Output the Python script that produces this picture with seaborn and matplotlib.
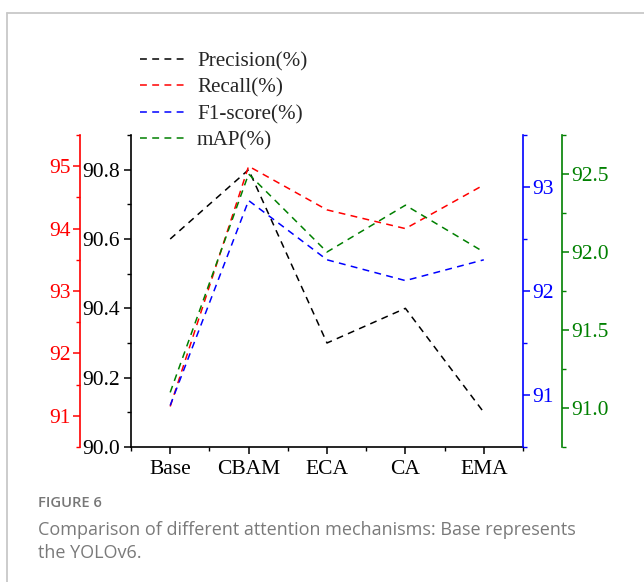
import matplotlib
matplotlib.use("Agg")
import matplotlib.pyplot as plt
from matplotlib.lines import Line2D
from matplotlib.ticker import FixedLocator, FormatStrFormatter
import seaborn as sns
import pandas as pd

categories = ["Base", "CBAM", "ECA", "CA", "EMA"]
precision = [90.6, 90.8, 90.3, 90.4, 90.1]
recall = [91.15, 95.0, 94.3, 94.0, 94.7]
f1_score = [90.9, 92.87, 92.3, 92.1, 92.3]
map_vals = [91.1, 92.5, 92.0, 92.3, 92.0]
series_names = ["Precision(%)", "Recall(%)", "F1-score(%)", "mAP(%)"]
series_colors = ["#000000", "#ff0000", "#0000ff", "#008000"]

sns.set_style("ticks")
SERIF = "Liberation Serif"
plt.rcParams["font.family"] = [SERIF, "DejaVu Serif"]

W, H = 644, 582
fig = plt.figure(figsize=(W / 100, H / 100), dpi=100)
fig.patch.set_facecolor("white")

# card frame lines
fig.add_artist(Line2D([7 / W, 1.0], [1 - 13 / H, 1 - 13 / H], color="#c8c8c8", lw=1.3))
fig.add_artist(Line2D([7 / W, 7 / W], [0, 1 - 13 / H], color="#c8c8c8", lw=1.3))

left, right, bottom, top = 131 / W, 523 / W, 1 - 447 / H, 1 - 135 / H
ax = fig.add_axes([left, bottom, right - left, top - bottom])
ax_red = ax.twinx()
ax_blue = ax.twinx()
ax_green = ax.twinx()

df = pd.DataFrame({"cat": categories, "p": precision, "r": recall, "f": f1_score, "m": map_vals})
dash = (0, (4.5, 3.5))
lw = 1.1
sns.lineplot(data=df, x="cat", y="p", ax=ax, color=series_colors[0], lw=lw, linestyle=dash, sort=False)
sns.lineplot(data=df, x="cat", y="r", ax=ax_red, color=series_colors[1], lw=lw, linestyle=dash, sort=False)
sns.lineplot(data=df, x="cat", y="f", ax=ax_blue, color=series_colors[2], lw=lw, linestyle=dash, sort=False)
sns.lineplot(data=df, x="cat", y="m", ax=ax_green, color=series_colors[3], lw=lw, linestyle=dash, sort=False)

fs = 15.5
for a in (ax, ax_red, ax_blue, ax_green):
    a.set_xlim(-0.5, 4.5)
    a.set_xlabel("")
    a.set_ylabel("")
    a.patch.set_visible(False)
    for s in a.spines.values():
        s.set_visible(False)

# main axis (black)
for side in ("left", "bottom"):
    ax.spines[side].set_visible(True)
    ax.spines[side].set_color("black")
    ax.spines[side].set_linewidth(1.2)
ax.set_ylim(90.0, 90.9)
ax.yaxis.set_major_locator(FixedLocator([90.0, 90.2, 90.4, 90.6, 90.8]))
ax.yaxis.set_minor_locator(FixedLocator([90.1, 90.3, 90.5, 90.7, 90.9]))
ax.yaxis.set_major_formatter(FormatStrFormatter("%.1f"))
ax.set_xticks(range(len(categories)))
ax.set_xticklabels(categories)
ax.xaxis.set_minor_locator(FixedLocator([-0.5, 0.5, 1.5, 2.5, 3.5, 4.5]))
ax.tick_params(axis="both", which="major", direction="out", length=5, width=1.1, labelsize=fs,
               colors="black", pad=3, labelfontfamily=SERIF)
ax.tick_params(axis="both", which="minor", direction="out", length=3, width=1.0, colors="black")
ax.tick_params(axis="x", which="major", pad=4)

# red axis on left, offset
ax_red.yaxis.set_ticks_position("left")
ax_red.yaxis.set_label_position("left")
ax_red.spines["left"].set_visible(True)
ax_red.spines["left"].set_position(("outward", 51 * 0.72))
ax_red.spines["left"].set_color("#ff0000")
ax_red.spines["left"].set_linewidth(1.2)
ax_red.set_ylim(90.5, 95.5)
ax_red.yaxis.set_major_locator(FixedLocator([91, 92, 93, 94, 95]))
ax_red.yaxis.set_minor_locator(FixedLocator([90.5, 91.5, 92.5, 93.5, 94.5, 95.5]))
ax_red.yaxis.set_major_formatter(FormatStrFormatter("%d"))
ax_red.tick_params(axis="y", which="major", direction="out", length=5, width=1.1, labelsize=fs,
                   colors="#ff0000", pad=2, labelfontfamily=SERIF)
ax_red.tick_params(axis="y", which="minor", direction="out", length=3, width=1.0, colors="#ff0000")

# blue axis on right
ax_blue.spines["right"].set_visible(True)
ax_blue.spines["right"].set_color("#0000ff")
ax_blue.spines["right"].set_linewidth(1.2)
ax_blue.set_ylim(90.5, 93.5)
ax_blue.yaxis.set_major_locator(FixedLocator([91, 92, 93]))
ax_blue.yaxis.set_minor_locator(FixedLocator([90.5, 91.5, 92.5, 93.5]))
ax_blue.yaxis.set_major_formatter(FormatStrFormatter("%d"))
ax_blue.tick_params(axis="y", which="major", direction="out", length=5, width=1.1, labelsize=fs,
                    colors="#0000ff", pad=2, labelfontfamily=SERIF)
ax_blue.tick_params(axis="y", which="minor", direction="out", length=3, width=1.0, colors="#0000ff")

# green axis on right, offset
ax_green.spines["right"].set_visible(True)
ax_green.spines["right"].set_position(("outward", 39 * 0.72))
ax_green.spines["right"].set_color("#008000")
ax_green.spines["right"].set_linewidth(1.2)
ax_green.set_ylim(90.75, 92.75)
ax_green.yaxis.set_major_locator(FixedLocator([91.0, 91.5, 92.0, 92.5]))
ax_green.yaxis.set_minor_locator(FixedLocator([90.75, 91.25, 91.75, 92.25, 92.75]))
ax_green.yaxis.set_major_formatter(FormatStrFormatter("%.1f"))
ax_green.tick_params(axis="y", which="major", direction="out", length=5, width=1.1, labelsize=fs,
                     colors="#008000", pad=2, labelfontfamily=SERIF)
ax_green.tick_params(axis="y", which="minor", direction="out", length=3, width=1.0, colors="#008000")

for a in (ax_red, ax_blue, ax_green):
    a.tick_params(axis="x", which="both", bottom=False, top=False, labelbottom=False)

# legend
handles = [Line2D([0], [0], color=c, lw=lw, linestyle=dash) for c in series_colors]
fig.legend(handles, series_names, loc="upper left", bbox_to_anchor=(140 / W, 1 - 52 / H),
           frameon=False, borderpad=0, borderaxespad=0,
           handlelength=2.25, handletextpad=0.45, labelspacing=0.3,
           prop={"family": SERIF, "size": 15.2})

# caption
SANS = ["Open Sans", "DejaVu Sans"]
fig.text(38 / W, 1 - 503 / H, "FIGURE 6", fontsize=10.6, color="#777777", fontweight="semibold",
         family=SANS, va="center", ha="left")
fig.text(38 / W, 1 - 530 / H, "Comparison of different attention mechanisms: Base represents",
         fontsize=13.0, color="#7a7a7a", family=SANS, va="center", ha="left")
fig.text(38 / W, 1 - 553 / H, "the YOLOv6.",
         fontsize=13.0, color="#7a7a7a", family=SANS, va="center", ha="left")

fig.savefig("out.png", dpi=100, facecolor="white")
